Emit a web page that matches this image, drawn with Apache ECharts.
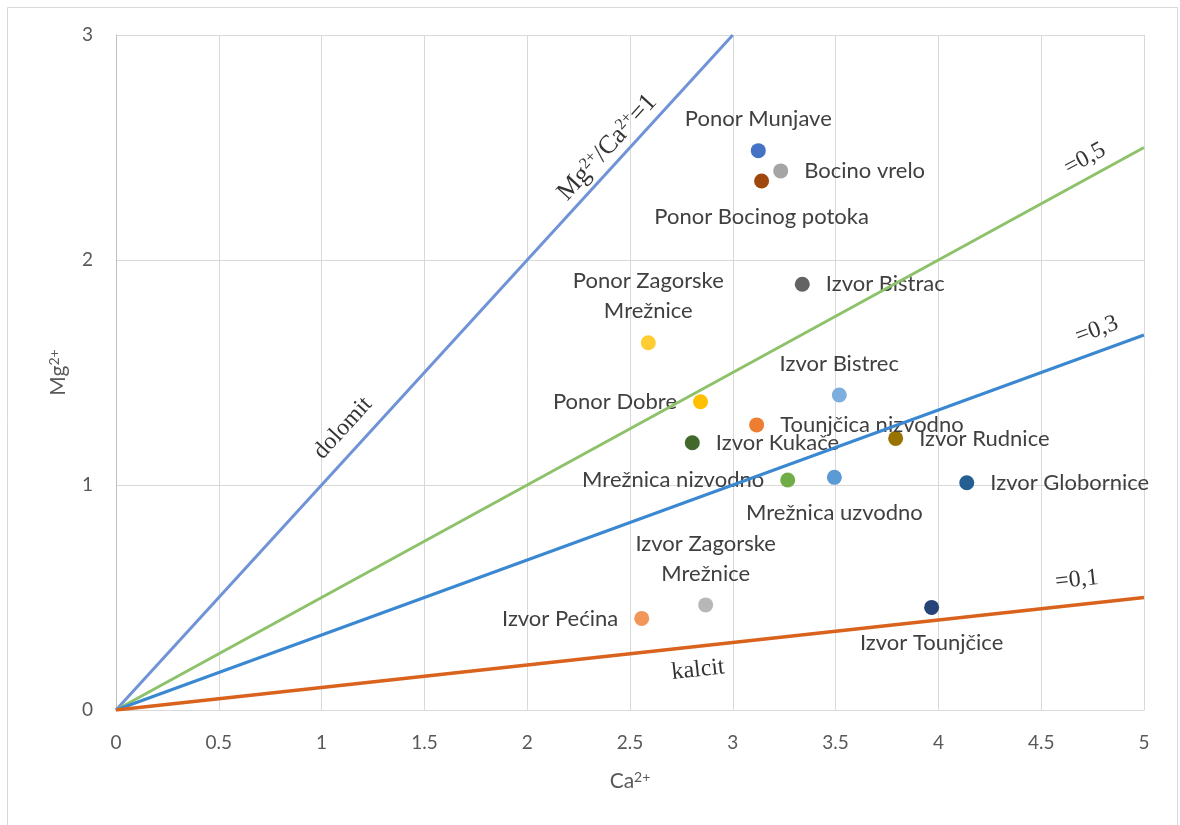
<!DOCTYPE html>
<html>
<head>
<meta charset="utf-8">
<script src="https://cdn.jsdelivr.net/npm/echarts@6/dist/echarts.min.js"></script>
<style>
html,body{margin:0;padding:0;background:#fff;}
#chart{width:1180px;height:825px;}
</style>
</head>
<body>
<div id="chart"></div>
<script>
// ---- data ----
const names = ['Ponor Munjave','Bocino vrelo','Ponor Bocinog potoka','Izvor Bistrac','Ponor Zagorske\nMrežnice','Izvor Bistrec','Ponor Dobre','Tounjčica nizvodno','Izvor Kukače','Izvor Rudnice','Mrežnica nizvodno','Mrežnica uzvodno','Izvor Globornice','Izvor Zagorske\nMrežnice','Izvor Pećina','Izvor Tounjčice'];
const caValues = [3.124,3.233,3.140,3.338,2.589,3.518,2.843,3.116,2.803,3.792,3.267,3.494,4.138,2.868,2.557,3.967];
const mgValues = [2.486,2.396,2.351,1.892,1.632,1.400,1.370,1.267,1.188,1.207,1.022,1.034,1.010,0.467,0.407,0.456];
const pointColors = ['#4472C4','#A5A5A5','#9E480E','#636363','#FFCD33','#7CAFDD','#FFC000','#ED7D31','#43682B','#997300','#70AD47','#5B9BD5','#255E91','#B7B7B7','#F1975A','#264478'];
const labelSides = ['top','right','bottom','right','top','top','left','right','right','right','left','bottom','right','top','left','bottom'];

const dolomitLine = [[0,0],[3,3]];
const ratio05Line = [[0,0],[5,2.5]];
const ratio03Line = [[0,0],[5,1.6667]];
const calcitLine  = [[0,0],[5,0.5]];

const annoTexts = ['Mg{s|2+}/Ca{s|2+}=1','dolomit','=0,5','=0,3','=0,1','kalcit'];
const annoX = [2.39,1.104,4.713,4.771,4.674,2.831];
const annoY = [2.50,1.253,2.449,1.689,0.578,0.178];
const annoAngles = [47.6,47.6,28.7,20,6.2,6.2];

const xTickLabels = ['0','0.5','1','1.5','2','2.5','3','3.5','4','4.5','5'];
const yTickLabels = ['0','1','2','3'];

// ---- build ----
const labelFont = 'Lato, "Liberation Sans", sans-serif';
const serif = '"Liberation Serif", "DejaVu Serif", serif';
const sideDistance = {top:9, bottom:13, left:16, right:16};
const sideAlign = {top:'center', bottom:'center', left:'right', right:'left'};

const pointData = names.map((n,i)=>{
  const side = labelSides[i];
  return {
    value:[caValues[i], mgValues[i]],
    name:n,
    itemStyle:{color:pointColors[i], opacity:1},
    label:{
      show:true,
      position:side,
      distance: sideDistance[side],
      formatter:n,
      color:'#404040',
      fontFamily:labelFont,
      fontSize:22,
      lineHeight:30,
      align: sideAlign[side]
    }
  };
});

const annoData = annoTexts.map((t,i)=>({
  value:[annoX[i], annoY[i]],
  label:{
    show:true, position:'inside', formatter:t, rotate:annoAngles[i],
    color:'#000', fontFamily:serif, fontSize: i===0 ? 26 : 24,
    rich:{s:{fontFamily:serif, fontSize:16, verticalAlign:'top', color:'#000', padding:[0,0,11,0]}}
  }
}));

function lineSeries(data,color,w){
  return {type:'line', data:data, symbol:'none', z:5, silent:true,
    lineStyle:{color:color, width:w}};
}

const chart = echarts.init(document.getElementById('chart'));
chart.setOption({
  animation:false,
  backgroundColor:'#fff',
  graphic:[{type:'rect', shape:{x:7.5,y:7.5,width:1170,height:830}, style:{fill:'none', stroke:'#D9D9D9', lineWidth:1}, silent:true}],
  grid:{left:116, right:36, top:35, bottom:115, containLabel:false},
  xAxis:{
    type:'value', min:0, max:5, interval:0.5,
    axisLine:{show:true, onZero:false, lineStyle:{color:'#D9D9D9'}},
    axisTick:{show:false},
    splitLine:{show:true, lineStyle:{color:'#D9D9D9', width:1}},
    axisLabel:{color:'#595959', fontFamily:labelFont, fontSize:19, margin:23,
      formatter:(v)=>xTickLabels[Math.round(v*2)]},
    name:'Ca{s|2+}', nameLocation:'middle', nameGap:60,
    nameTextStyle:{color:'#595959', fontFamily:labelFont, fontSize:21,
      rich:{s:{fontSize:14, verticalAlign:'top', padding:[0,0,9,0], color:'#595959', fontFamily:labelFont}}}
  },
  yAxis:{
    type:'value', min:0, max:3, interval:1,
    axisLine:{show:true, onZero:false, lineStyle:{color:'#BFBFBF'}},
    axisTick:{show:false},
    splitLine:{show:true, lineStyle:{color:'#D9D9D9', width:1}},
    axisLabel:{color:'#595959', fontFamily:labelFont, fontSize:19, margin:23,
      formatter:(v)=>yTickLabels[Math.round(v)]},
    name:'Mg{s|2+}', nameLocation:'middle', nameGap:46,
    nameTextStyle:{color:'#595959', fontFamily:labelFont, fontSize:21,
      rich:{s:{fontSize:14, verticalAlign:'top', padding:[0,0,9,0], color:'#595959', fontFamily:labelFont}}}
  },
  series:[
    lineSeries(dolomitLine,'#6F93D6',3),
    lineSeries(ratio05Line,'#8DC26A',3),
    lineSeries(ratio03Line,'#3A88D2',3),
    lineSeries(calcitLine,'#D9621C',3.5),
    {type:'scatter', z:2, symbolSize:15, data:pointData, silent:true},
    {type:'scatter', z:6, symbolSize:0, data:annoData, silent:true}
  ]
});
</script>
</body>
</html>
